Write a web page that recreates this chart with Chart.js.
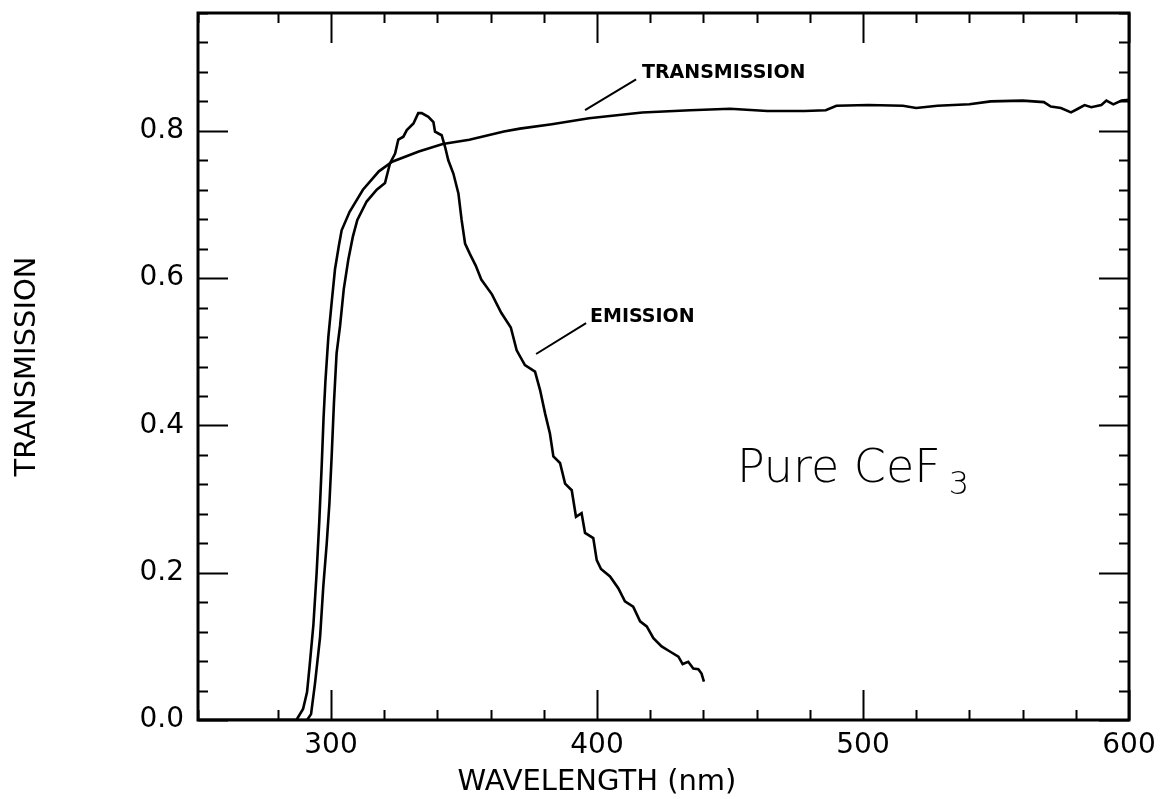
<!DOCTYPE html>
<html>
<head>
<meta charset="utf-8">
<style>
  html, body { margin: 0; padding: 0; background: #fff; }
  canvas { display: block; }
</style>
<script src="https://cdn.jsdelivr.net/npm/chart.js@4"></script>
</head>
<body>
<canvas id="cefChart" width="1169" height="799"></canvas>
<script>
// transmission curve of pure CeF3, wavelength (nm) / transmission
const transWl = [250, 287, 289.5, 291, 292, 293.4, 294.6, 295.6, 296.5, 297.2, 297.9, 299, 300.2, 301.5, 303, 304,
  307, 312, 318, 323, 333, 342, 352, 365, 371, 383, 397, 417, 435, 450, 464, 478, 486, 490, 502, 515, 520, 528,
  540, 548, 560, 568, 570.6, 574.4, 578.2, 580.8, 583.3, 585.8, 589.6, 591.5, 594.1, 597.2, 600];
const transVal = [0, 0, 0.015, 0.038, 0.075, 0.13, 0.20, 0.27, 0.345, 0.41, 0.46, 0.52, 0.565, 0.612, 0.645, 0.665,
  0.69, 0.72, 0.745, 0.758, 0.772, 0.782, 0.788, 0.799, 0.803, 0.809, 0.817, 0.825, 0.828, 0.830, 0.827, 0.827, 0.828, 0.834, 0.835, 0.834, 0.831, 0.834,
  0.836, 0.840, 0.841, 0.839, 0.833, 0.831, 0.825, 0.830, 0.835, 0.832, 0.835, 0.841, 0.836, 0.841, 0.842];

// emission spectrum (relative)
const emisWl = [250, 291, 292.5, 294, 295.9, 297.1, 298.4, 299.4, 300.3, 301.1, 302.1, 303.4, 304.8, 306.5, 308.2,
  309.9, 313.4, 317.2, 320.3, 321.2, 322.2, 324.1, 325.3, 327.2, 328.5, 331, 332.8, 334.1, 336.6, 338.5, 339.1,
  341.6, 342.9, 344.1, 346, 347.9, 349.1, 350.4, 352.2, 354.4, 356.5, 360.5, 364, 367.6, 369.8, 372.9, 376.7,
  378.6, 380.5, 382.3, 383.6, 386.1, 388, 390.5, 392.1, 394.2, 395.5, 398.6, 399.9, 401.5, 404.9, 408, 410.5,
  413.6, 416.2, 418.7, 421.2, 424.3, 427.4, 430.6, 432.2, 434.3, 436.2, 438.1, 439.3, 440.2];
const emisVal = [0, 0, 0.008, 0.05, 0.113, 0.181, 0.24, 0.294, 0.362, 0.43, 0.498, 0.535, 0.585, 0.625, 0.656,
  0.679, 0.704, 0.72, 0.729, 0.742, 0.756, 0.769, 0.788, 0.792, 0.801, 0.81, 0.824, 0.824, 0.819, 0.812, 0.799,
  0.794, 0.778, 0.76, 0.742, 0.715, 0.679, 0.647, 0.633, 0.617, 0.598, 0.578, 0.553, 0.533, 0.502, 0.482, 0.473,
  0.448, 0.416, 0.389, 0.358, 0.349, 0.321, 0.312, 0.276, 0.281, 0.254, 0.247, 0.217, 0.205, 0.195, 0.179, 0.161,
  0.154, 0.134, 0.127, 0.111, 0.100, 0.093, 0.086, 0.076, 0.079, 0.070, 0.069, 0.063, 0.052];

const xMin = 250, xMax = 600, xStep = 20;
const yMin = 0, yMax = 0.96, yStep = 0.04;

const FONT = "'DejaVu Sans', 'Liberation Sans', sans-serif";

function toPoints(xs, ys) {
  return xs.map((x, i) => ({ x: x, y: ys[i] }));
}

// box, inward ticks on all four sides, axis titles and the text notes
const frameTicks = {
  id: 'frameTicks',
  afterDraw(chart) {
    const { ctx, chartArea: a, scales: { x, y } } = chart;
    ctx.save();
    ctx.strokeStyle = '#000';
    ctx.lineCap = 'butt';

    ctx.lineWidth = 2;
    ctx.beginPath();
    x.ticks.forEach(t => {
      const px = Math.round(x.getPixelForValue(t.value)) + 0.5;
      const len = t.value % 100 === 0 ? 30 : 10;
      ctx.moveTo(px, a.bottom); ctx.lineTo(px, a.bottom - len);
      ctx.moveTo(px, a.top); ctx.lineTo(px, a.top + len);
    });
    y.ticks.forEach(t => {
      const py = Math.round(y.getPixelForValue(t.value)) + 0.5;
      const len = Math.round(t.value * 100) % 20 === 0 ? 30 : 10;
      ctx.moveTo(a.left, py); ctx.lineTo(a.left + len, py);
      ctx.moveTo(a.right, py); ctx.lineTo(a.right - len, py);
    });
    ctx.stroke();

    ctx.lineWidth = 3;
    ctx.strokeRect(a.left, a.top, a.right - a.left, a.bottom - a.top);

    // axis titles
    ctx.fillStyle = '#000';
    ctx.font = '29px ' + FONT;
    ctx.textAlign = 'center';
    ctx.textBaseline = 'alphabetic';
    ctx.fillText('WAVELENGTH (nm)', x.getPixelForValue(400), a.bottom + 70);

    ctx.save();
    ctx.translate(35, (a.top + a.bottom) / 2);
    ctx.rotate(-Math.PI / 2);
    ctx.fillText('TRANSMISSION', 0, 0);
    ctx.restore();

    // curve notes with leader lines
    ctx.lineWidth = 2;
    ctx.beginPath();
    ctx.moveTo(x.getPixelForValue(395.5), y.getPixelForValue(0.828));
    ctx.lineTo(x.getPixelForValue(414.7), y.getPixelForValue(0.870));
    ctx.moveTo(x.getPixelForValue(377.1), y.getPixelForValue(0.497));
    ctx.lineTo(x.getPixelForValue(395.9), y.getPixelForValue(0.539));
    ctx.stroke();

    ctx.font = 'bold 19px ' + FONT;
    ctx.textAlign = 'left';
    ctx.fillText('TRANSMISSION', x.getPixelForValue(416.9), y.getPixelForValue(0.872));
    ctx.fillText('EMISSION', x.getPixelForValue(397.4), y.getPixelForValue(0.540));

    // "Pure CeF3" with the 3 as a subscript
    ctx.save();
    ctx.translate(x.getPixelForValue(452.6), y.getPixelForValue(0.323));
    ctx.font = '200 46px ' + FONT;
    ctx.fillText('Pure CeF', 0, 0);
    const w = ctx.measureText('Pure CeF').width;
    ctx.font = '200 32px ' + FONT;
    ctx.fillText('3', w + 8, 12);
    ctx.restore();

    ctx.restore();
  }
};

const ctx = document.getElementById('cefChart').getContext('2d');
new Chart(ctx, {
  type: 'line',
  data: {
    datasets: [{
      label: 'Transmission',
      data: toPoints(transWl, transVal),
      borderColor: '#000',
      borderWidth: 2.6,
      pointRadius: 0,
      fill: false,
      tension: 0
    },
    {
      label: 'Emission',
      data: toPoints(emisWl, emisVal),
      borderColor: '#000',
      borderWidth: 2.6,
      pointRadius: 0,
      fill: false,
      tension: 0
    }]
  },
  options: {
    responsive: false,
    animation: false,
    devicePixelRatio: 1,
    layout: { padding: { top: 13, right: 40, bottom: 0, left: 0 } },
    plugins: {
      legend: { display: false },
      tooltip: { enabled: false }
    },
    scales: {
      x: {
        type: 'linear',
        min: xMin,
        max: xMax,
        grid: { display: false, drawTicks: false },
        border: { display: false },
        ticks: {
          stepSize: xStep,
          autoSkip: false,
          maxRotation: 0,
          padding: 9,
          color: '#000',
          font: { family: FONT, size: 28 },
          callback: v => (v % 100 === 0 ? String(v) : '')
        },
        afterFit: scale => {
          scale.height = 79;
          scale.paddingLeft = 0;
          scale.paddingRight = 0;
        }
      },
      y: {
        min: yMin,
        max: yMax,
        grid: { display: false, drawTicks: false },
        border: { display: false },
        ticks: {
          stepSize: yStep,
          autoSkip: false,
          padding: 14,
          color: '#000',
          font: { family: FONT, size: 28 },
          callback: v => (Math.round(v * 100) % 20 === 0 ? v.toFixed(1) : '')
        },
        afterFit: scale => {
          scale.width = 198;
          scale.paddingTop = 0;
          scale.paddingBottom = 0;
        }
      }
    }
  },
  plugins: [frameTicks]
});
</script>
</body>
</html>
